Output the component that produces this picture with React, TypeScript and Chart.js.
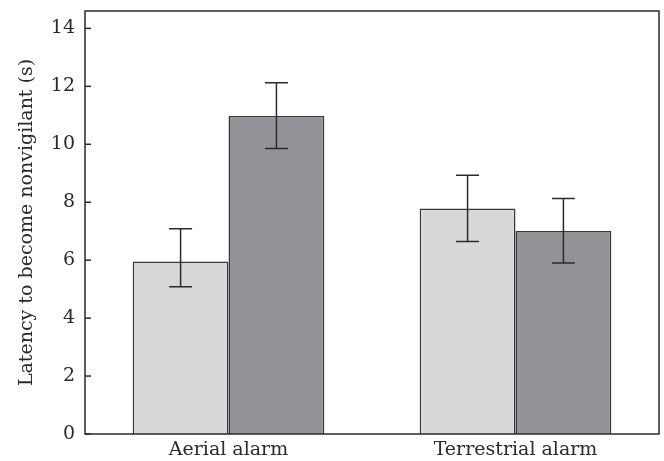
import React, { useEffect, useRef } from "react";
import { Chart, registerables } from "chart.js";

Chart.register(...registerables);

const categories = ["Aerial alarm", "Terrestrial alarm"];
const lightMeans = [5.95, 7.78];
const lightLow = [5.08, 6.64];
const lightHigh = [7.08, 8.93];
const darkMeans = [10.98, 7.01];
const darkLow = [9.85, 5.9];
const darkHigh = [12.12, 8.13];
const yTicks = [0, 2, 4, 6, 8, 10, 12, 14];
const yTitle = "Latency to become nonvigilant (s)";

const INK = "#2b2a2b";
const FONT = "'DejaVu Serif', 'Liberation Serif', serif";
const FS = 19;

const lows = [lightLow, darkLow];
const highs = [lightHigh, darkHigh];

const framePlugin = {
  id: "frameAndExtras",
  afterDatasetsDraw(chart: any) {
    const { ctx, chartArea, scales } = chart;
    const y = scales.y;
    ctx.save();
    ctx.strokeStyle = INK;
    ctx.lineWidth = 1.5;
    chart.data.datasets.forEach((ds: any, di: number) => {
      const meta = chart.getDatasetMeta(di);
      meta.data.forEach((bar: any, i: number) => {
        const x = bar.x;
        const yl = y.getPixelForValue(lows[di][i]);
        const yh = y.getPixelForValue(highs[di][i]);
        const cap = 11.5;
        ctx.beginPath();
        ctx.moveTo(x, yl);
        ctx.lineTo(x, yh);
        ctx.moveTo(x - cap, yh);
        ctx.lineTo(x + cap, yh);
        ctx.moveTo(x - cap, yl);
        ctx.lineTo(x + cap, yl);
        ctx.stroke();
      });
    });
    yTicks.forEach((v) => {
      const py = y.getPixelForValue(v);
      ctx.beginPath();
      ctx.moveTo(chartArea.left, py);
      ctx.lineTo(chartArea.left + 6, py);
      ctx.stroke();
    });
    ctx.strokeRect(
      chartArea.left,
      chartArea.top,
      chartArea.right - chartArea.left,
      chartArea.bottom - chartArea.top
    );
    ctx.restore();
  },
};

export default function App() {
  const ref = useRef<HTMLCanvasElement>(null);
  useEffect(() => {
    document.body.style.margin = "0";
    const chart = new Chart(ref.current!, {
      type: "bar",
      data: {
        labels: categories,
        datasets: [
          {
            data: lightMeans,
            backgroundColor: "#d8d8da",
            borderColor: "#3a393a",
            borderWidth: 1.5,
            borderSkipped: "bottom",
          },
          {
            data: darkMeans,
            backgroundColor: "#929396",
            borderColor: "#3a393a",
            borderWidth: 1.5,
            borderSkipped: "bottom",
          },
        ],
      },
      options: {
        responsive: false,
        animation: false,
        layout: { padding: { top: 11, right: 5, left: 0, bottom: 0 } },
        plugins: { legend: { display: false }, tooltip: { enabled: false } },
        datasets: { bar: { categoryPercentage: 0.668, barPercentage: 1 } },
        scales: {
          x: {
            grid: { display: false },
            border: { display: false },
            ticks: {
              color: INK,
              font: { family: FONT, size: FS },
              padding: -3,
            },
            afterFit: (s: any) => {
              s.height = 27;
              s.paddingLeft = 0;
              s.paddingRight = 0;
            },
          },
          y: {
            min: 0,
            max: 14.6,
            grid: { display: false, drawTicks: false },
            border: { display: false },
            ticks: {
              stepSize: 2,
              color: INK,
              font: { family: FONT, size: FS },
              padding: 10,
            },
            afterBuildTicks: (s: any) => {
              s.ticks = yTicks.map((v) => ({ value: v }));
            },
            title: {
              display: true,
              text: yTitle,
              color: INK,
              font: { family: FONT, size: FS, lineHeight: 1.2 },
              padding: { top: 15.5, bottom: 0 },
            },
            afterFit: (s: any) => {
              s.width = 85;
              s.paddingTop = 0;
              s.paddingBottom = 0;
            },
          },
        },
      },
      plugins: [framePlugin],
    });
    return () => chart.destroy();
  }, []);
  return (
    <div style={{ position: "absolute", left: 0, top: 0, width: 664, height: 461 }}>
      <canvas ref={ref} width={664} height={461} />
    </div>
  );
}
